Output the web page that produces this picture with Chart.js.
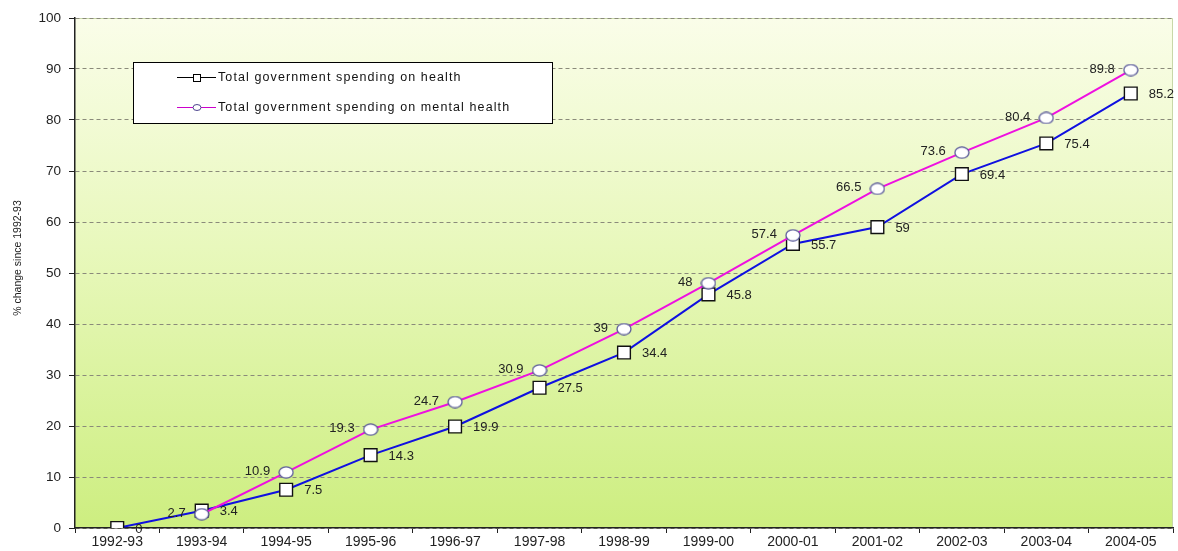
<!DOCTYPE html>
<html>
<head>
<meta charset="utf-8">
<script src="https://cdn.jsdelivr.net/npm/chart.js@4/dist/chart.umd.min.js"></script>
<style>
  html, body { margin: 0; padding: 0; background: #ffffff; }
  #wrap { width: 1178px; height: 551px; position: relative; }
</style>
</head>
<body>
<div id="wrap"><canvas id="c" width="1178" height="551"></canvas></div>
<script>
// Financial years
const years = ['1992-93','1993-94','1994-95','1995-96','1996-97','1997-98','1998-99',
               '1999-00','2000-01','2001-02','2002-03','2003-04','2004-05'];
// Cumulative % change since 1992-93
const healthSpending = [0, 3.4, 7.5, 14.3, 19.9, 27.5, 34.4, 45.8, 55.7, 59, 69.4, 75.4, 85.2];
const mentalHealthSpending = [null, 2.7, 10.9, 19.3, 24.7, 30.9, 39, 48, 57.4, 66.5, 73.6, 80.4, 89.8];
const seriesNames = ['Total government spending on health', 'Total government spending on mental health'];
const yTicks = [0, 10, 20, 30, 40, 50, 60, 70, 80, 90, 100];
const yTitle = '% change since 1992-93';

const FONT = 'Liberation Sans, Arial, sans-serif';

// Slightly flattened open circle used as the mental-health marker
const ovalMarker = (() => {
  const c = document.createElement('canvas');
  c.width = 16; c.height = 13;
  const g = c.getContext('2d');
  g.fillStyle = '#ffffff';
  g.strokeStyle = '#5a5a9a';
  g.lineWidth = 1.3;
  g.beginPath();
  g.ellipse(8, 6.5, 7, 5.6, 0, 0, Math.PI * 2);
  g.fill();
  g.stroke();
  return c;
})();

// Gradient plot background and frame
const backdrop = {
  id: 'backdrop',
  beforeDraw(chart) {
    const { ctx, chartArea: a } = chart;
    const g = ctx.createLinearGradient(0, a.top, 0, a.bottom);
    g.addColorStop(0, '#fafde9');
    g.addColorStop(0.45, '#e8f8bc');
    g.addColorStop(1, '#cdee80');
    ctx.save();
    ctx.fillStyle = g;
    ctx.fillRect(a.left, a.top, a.right - a.left, a.bottom - a.top);
    ctx.strokeStyle = '#c8d8a8';
    ctx.lineWidth = 1;
    ctx.beginPath();
    ctx.moveTo(a.left, a.top + 0.5);
    ctx.lineTo(a.right - 0.5, a.top + 0.5);
    ctx.lineTo(a.right - 0.5, a.bottom);
    ctx.stroke();
    ctx.restore();
  },
  afterDraw(chart) {
    // vertical axis caption
    const { ctx } = chart;
    ctx.save();
    ctx.translate(18, 258);
    ctx.rotate(-Math.PI / 2);
    ctx.font = '10.5px ' + FONT;
    ctx.fillStyle = '#222222';
    ctx.textAlign = 'center';
    ctx.textBaseline = 'middle';
    ctx.fillText(yTitle, 0, 0);
    ctx.restore();
  }
};

// Value labels beside each marker
const valueLabels = {
  id: 'valueLabels',
  afterDatasetsDraw(chart) {
    const { ctx } = chart;
    ctx.save();
    ctx.font = '13px ' + FONT;
    ctx.fillStyle = '#222222';
    ctx.textBaseline = 'middle';
    chart.data.datasets.forEach((ds, di) => {
      const meta = chart.getDatasetMeta(di);
      meta.data.forEach((pt, i) => {
        const v = ds.data[i];
        if (v === null) return;
        if (di === 0) {
          ctx.textAlign = 'left';
          ctx.fillText(String(v), pt.x + 18, pt.y + 1);
        } else {
          ctx.textAlign = 'right';
          ctx.fillText(String(v), pt.x - 16, pt.y - 1);
        }
      });
    });
    ctx.restore();
  }
};

// Boxed legend inside the plot
const boxLegend = {
  id: 'boxLegend',
  afterDraw(chart) {
    const { ctx } = chart;
    const x = 133, y = 62, w = 419, h = 61;
    ctx.save();
    ctx.fillStyle = '#ffffff';
    ctx.fillRect(x, y, w, h);
    ctx.strokeStyle = '#000000';
    ctx.lineWidth = 1;
    ctx.strokeRect(x + 0.5, y + 0.5, w, h);
    const rows = [y + 15, y + 45];
    chart.data.datasets.forEach((ds, di) => {
      const cy = rows[di];
      ctx.strokeStyle = di === 0 ? '#000000' : '#cc00cc';
      ctx.beginPath();
      ctx.moveTo(177, cy + 0.5);
      ctx.lineTo(216, cy + 0.5);
      ctx.stroke();
      ctx.fillStyle = '#ffffff';
      if (di === 0) {
        ctx.strokeStyle = '#000000';
        ctx.fillRect(193, cy - 3, 7, 7);
        ctx.strokeRect(193.5, cy - 2.5, 7, 7);
      } else {
        ctx.strokeStyle = '#504890';
        ctx.beginPath();
        ctx.ellipse(197, cy + 0.5, 4, 3, 0, 0, Math.PI * 2);
        ctx.fill();
        ctx.stroke();
      }
      ctx.fillStyle = '#111111';
      ctx.font = '12.5px ' + FONT;
      ctx.letterSpacing = '1.1px';
      ctx.textAlign = 'left';
      ctx.textBaseline = 'middle';
      ctx.fillText(ds.label, 218, cy + 1);
      ctx.letterSpacing = '0px';
    });
    ctx.restore();
  }
};

new Chart(document.getElementById('c'), {
  type: 'line',
  data: {
    labels: years,
    datasets: [
      {
        label: seriesNames[0],
        data: healthSpending,
        borderColor: '#1010e0',
        borderWidth: 2,
        pointStyle: 'rect',
        pointRadius: 9,
        pointBackgroundColor: '#ffffff',
        pointBorderColor: '#111111',
        pointBorderWidth: 1.4,
        tension: 0,
        order: 2
      },
      {
        label: seriesNames[1],
        data: mentalHealthSpending,
        borderColor: '#ee10e0',
        borderWidth: 2,
        pointStyle: ovalMarker,
        pointRadius: 7,
        tension: 0,
        spanGaps: false,
        order: 1
      }
    ]
  },
  options: {
    responsive: false,
    animation: false,
    events: [],
    layout: { autoPadding: false, padding: { top: 18, right: 5, left: 10, bottom: 0 } },
    plugins: {
      legend: { display: false },
      tooltip: { enabled: false },
      title: { display: false }
    },
    scales: {
      x: {
        offset: true,
        grid: {
          offset: true,
          drawOnChartArea: false,
          drawTicks: true,
          tickLength: 5,
          color: '#222222'
        },
        border: { display: true, color: '#222222', width: 1.5 },
        ticks: {
          color: '#222222',
          font: { family: FONT, size: 14 },
          maxRotation: 0,
          autoSkip: false,
          padding: 1
        },
        afterFit(scale) {
          scale.height = 23;
          scale.paddingLeft = 0;
          scale.paddingRight = 0;
        }
      },
      y: {
        min: 0,
        max: 100,
        afterBuildTicks(scale) { scale.ticks = yTicks.map(v => ({ value: v })); },
        grid: {
          color: '#8a8a7a',
          lineWidth: 1,
          tickLength: 6,
          tickColor: '#222222',
          drawTicks: true
        },
        border: { display: true, color: '#222222', width: 1.5, dash: [4, 3] },
        ticks: {
          color: '#222222',
          font: { family: FONT, size: 13.5 },
          padding: 8
        },
        afterFit(scale) { scale.width = 65; }
      }
    }
  },
  plugins: [backdrop, valueLabels, boxLegend]
});
</script>
</body>
</html>
